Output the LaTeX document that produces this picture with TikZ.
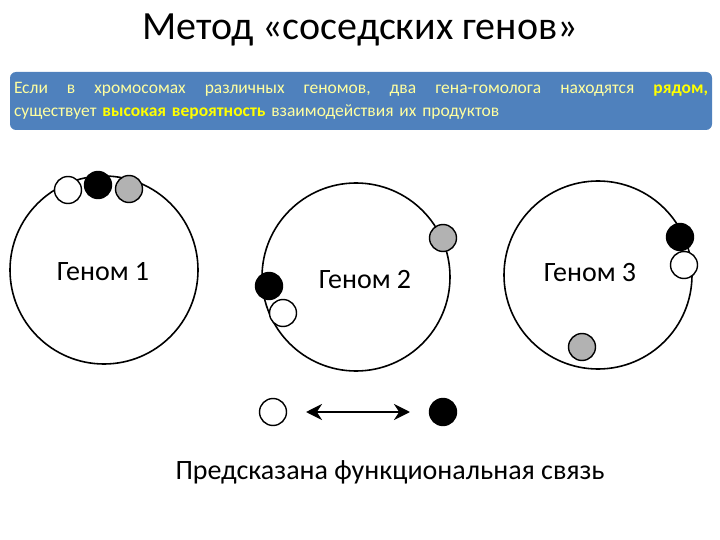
\documentclass[tikz,border=0pt]{standalone}
\usepackage{fontspec}
\setmainfont{Carlito}
\usetikzlibrary{arrows.meta}
\definecolor{boxblue}{HTML}{4F81BD}
\definecolor{pale}{HTML}{FFFFA0}
\definecolor{bright}{HTML}{FFFF00}
\begin{document}
\begin{tikzpicture}[x=1pt,y=-1pt,
  genome/.style={draw,line width=1.6pt,circle,minimum size=#1},
  wgene/.style={draw,line width=1.4pt,circle,fill=white,minimum size=27pt,inner sep=0},
  bgene/.style={draw,line width=1.4pt,circle,fill=black,minimum size=27pt,inner sep=0},
  ggene/.style={draw,line width=1.4pt,circle,fill=gray!60,minimum size=27pt,inner sep=0},
  lbl/.style={font=\fontsize{28}{32}\selectfont}]
\useasboundingbox (0,0) rectangle (720,540);
\node (title) at (360,30) {\fontsize{40}{45}\selectfont Метод «соседских генов»};
\node[fill=boxblue,rounded corners=6pt,minimum width=702pt,minimum height=58pt,text width=694pt,align=left,inner sep=4pt,text=pale,font=\fontsize{17.5}{23}\selectfont] (box) at (361,101)
 {\makebox[694pt][s]{Если\hfill в\hfill хромосомах\hfill различных\hfill геномов,\hfill два\hfill гена-гомолога\hfill находятся\hfill {\bfseries\color{bright}рядом,}}\\
 существует {\bfseries\color{bright}высокая вероятность} взаимодействия их продуктов};
\node[genome=188pt] (g1) at (104,270) {};
\node[genome=188pt] (g2) at (356,277) {};
\node[genome=188pt] (g3) at (598,275) {};
\node[lbl] (l1) at (103,272) {Геном 1};
\node[lbl] (l2) at (365,280) {Геном 2};
\node[lbl] (l3) at (590,273) {Геном 3};
\node[wgene] (a1) at (68,190) {};
\node[bgene] (b1) at (98,185) {};
\node[ggene] (c1) at (129,189) {};
\node[ggene] (c2) at (443,238) {};
\node[bgene] (b2) at (269,286) {};
\node[wgene] (a2) at (283,313) {};
\node[bgene] (b3) at (680,237) {};
\node[wgene] (a3) at (684,265) {};
\node[ggene] (c3) at (582,347) {};
\node[wgene] (wa) at (273,412) {};
\node[bgene] (ba) at (443,412) {};
\draw[line width=2.5pt,{Stealth[length=16pt,width=16pt]}-{Stealth[length=16pt,width=16pt]}] (306,412) -- (410,412);
\node (cap) at (390,472) {\fontsize{28}{32}\selectfont Предсказана функциональная связь};
\end{tikzpicture}
\end{document}
